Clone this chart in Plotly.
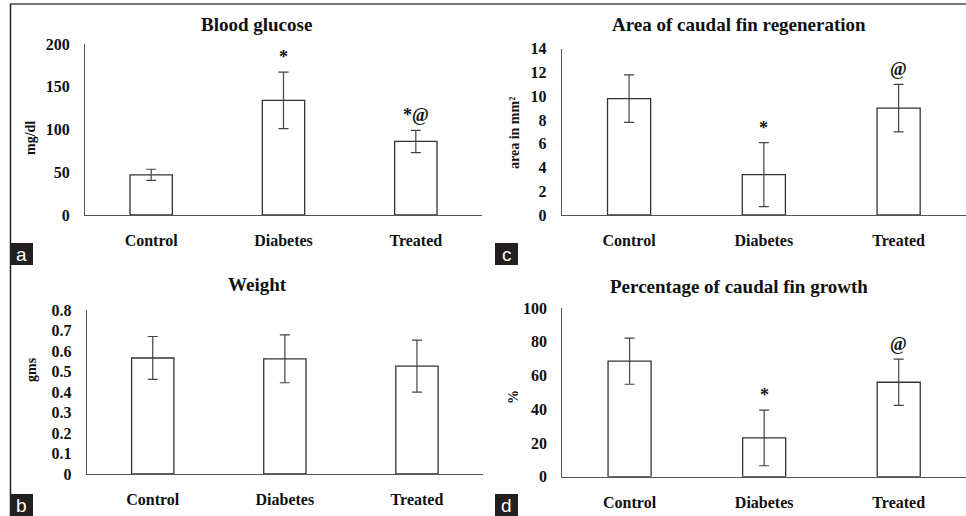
import plotly.graph_objects as go

categories = ["Control", "Diabetes", "Treated"]

glucose_mean = [47, 134, 86]
glucose_err = [6.5, 33, 13]
glucose_sig = ["", "*", "*@"]

area_mean = [9.8, 3.4, 9.0]
area_err = [2.0, 2.7, 2.0]
area_sig = ["", "*", "@"]

weight_mean = [0.567, 0.563, 0.527]
weight_err = [0.105, 0.117, 0.127]
weight_sig = ["", "", ""]

growth_mean = [68.5, 23, 56]
growth_err = [13.7, 16.5, 13.7]
growth_sig = ["", "*", "@"]

W, H = 966, 516
SERIF = "Liberation Serif, Times New Roman, serif"
TXT = "#111111"

panels = [
    dict(mean=glucose_mean, err=glucose_err, sig=glucose_sig, title="Blood glucose", ylabel="mg/dl",
         yr=[0, 200], dt=50, xd=(85, 482), yd=(44, 215), tp=(256, 25), yl=(30, 138), lb=(10, 243, 33, 265), lt="a"),
    dict(mean=area_mean, err=area_err, sig=area_sig, title="Area of caudal fin regeneration", ylabel="area in mm²",
         yr=[0, 14], dt=2, xd=(561.7, 966), yd=(48.7, 215), tp=(739, 25), yl=(514, 133), lb=(495, 243, 518, 265), lt="c"),
    dict(mean=weight_mean, err=weight_err, sig=weight_sig, title="Weight", ylabel="gms",
         yr=[0, 0.8], dt=0.1, xd=(86.7, 483), yd=(310.3, 474), tp=(257, 284), yl=(31, 370), lb=(10, 494, 33, 516), lt="b"),
    dict(mean=growth_mean, err=growth_err, sig=growth_sig, title="Percentage of caudal fin growth", ylabel="%",
         yr=[0, 100], dt=20, xd=(562.3, 966), yd=(308, 476.7), tp=(739, 286), yl=(513, 397), lb=(495, 494, 518, 516), lt="d"),
]

fig = go.Figure()
annotations = []
shapes = []

for i, p in enumerate(panels):
    n = "" if i == 0 else str(i + 1)
    xa, ya = "x" + n, "y" + n
    fig.add_trace(go.Bar(
        x=categories, y=p["mean"], width=0.32,
        marker=dict(color="white", line=dict(color="#333333", width=1.3)),
        error_y=dict(type="data", array=p["err"], visible=True, color="#444444", thickness=1.2, width=5),
        xaxis=xa, yaxis=ya, showlegend=False, hoverinfo="skip",
    ))
    xdom = [p["xd"][0] / W, min(p["xd"][1] / W, 1.0)]
    ydom = [1 - p["yd"][1] / H, 1 - p["yd"][0] / H]
    fig.layout["xaxis" + n] = dict(
        domain=xdom, anchor=ya, type="category", range=[-0.5, 2.5], automargin=False,
        showline=True, linecolor="#555555", linewidth=1.2, ticks="", showgrid=False, zeroline=False,
        tickfont=dict(family=SERIF, size=16, color=TXT, weight="bold"), ticklabelstandoff=11,
        fixedrange=True,
    )
    fig.layout["yaxis" + n] = dict(
        domain=ydom, anchor=xa, range=p["yr"], dtick=p["dt"], tick0=0, automargin=False,
        showline=True, linecolor="#555555", linewidth=1.2, ticks="", showgrid=False, zeroline=False,
        tickfont=dict(family=SERIF, size=16, color=TXT, weight="bold"), ticklabelstandoff=11,
        fixedrange=True,
    )
    annotations.append(dict(x=p["tp"][0] / W, y=1 - p["tp"][1] / H, xref="paper", yref="paper",
                            text=p["title"], showarrow=False, xanchor="center", yanchor="middle",
                            font=dict(family=SERIF, size=19, color=TXT, weight="bold")))
    annotations.append(dict(x=p["yl"][0] / W, y=1 - p["yl"][1] / H, xref="paper", yref="paper",
                            text=p["ylabel"], showarrow=False, textangle=-90, xanchor="center", yanchor="middle",
                            font=dict(family=SERIF, size=14, color=TXT, weight="bold")))
    for c, m, e, s in zip(categories, p["mean"], p["err"], p["sig"]):
        if s:
            annotations.append(dict(x=c, y=m + e, xref=xa, yref=ya, text=s, showarrow=False,
                                    xanchor="center", yanchor="bottom", yshift=3,
                                    font=dict(family=SERIF, size=18, color=TXT, weight="bold")))
    x0, y0, x1, y1 = p["lb"]
    shapes.append(dict(type="rect", xref="paper", yref="paper", x0=x0 / W, x1=x1 / W,
                       y0=1 - y1 / H, y1=1 - y0 / H, fillcolor="#231f20", line=dict(width=0)))
    annotations.append(dict(x=(x0 + x1) / 2 / W, y=1 - (y0 + y1) / 2 / H, xref="paper", yref="paper",
                            text=p["lt"], showarrow=False, xanchor="center", yanchor="middle",
                            font=dict(family="Liberation Sans, Arial, sans-serif", size=19, color="white")))

shapes.append(dict(type="line", xref="paper", yref="paper", x0=10 / W, x1=1, y0=1 - 4 / H, y1=1 - 4 / H,
                   line=dict(color="#777777", width=2)))
shapes.append(dict(type="line", xref="paper", yref="paper", x0=10.5 / W, x1=10.5 / W, y0=0, y1=1 - 4 / H,
                   line=dict(color="#222222", width=1.5)))

fig.update_layout(
    template="none",
    width=W, height=H, margin=dict(l=0, r=0, t=0, b=0, pad=0, autoexpand=False),
    paper_bgcolor="white", plot_bgcolor="white",
    annotations=annotations, shapes=shapes, bargap=0.68,
)

post = (
    "document.documentElement.style.margin='0';document.documentElement.style.overflow='hidden';"
    "document.body.style.margin='0';document.body.style.padding='0';document.body.style.overflow='hidden';"
    "var d=document.querySelector('.plotly-graph-div');"
    "if(d){d.style.position='fixed';d.style.top='0px';d.style.left='0px';}"
)

fig.write_html("out.html", config={"displayModeBar": False}, post_script=post)
